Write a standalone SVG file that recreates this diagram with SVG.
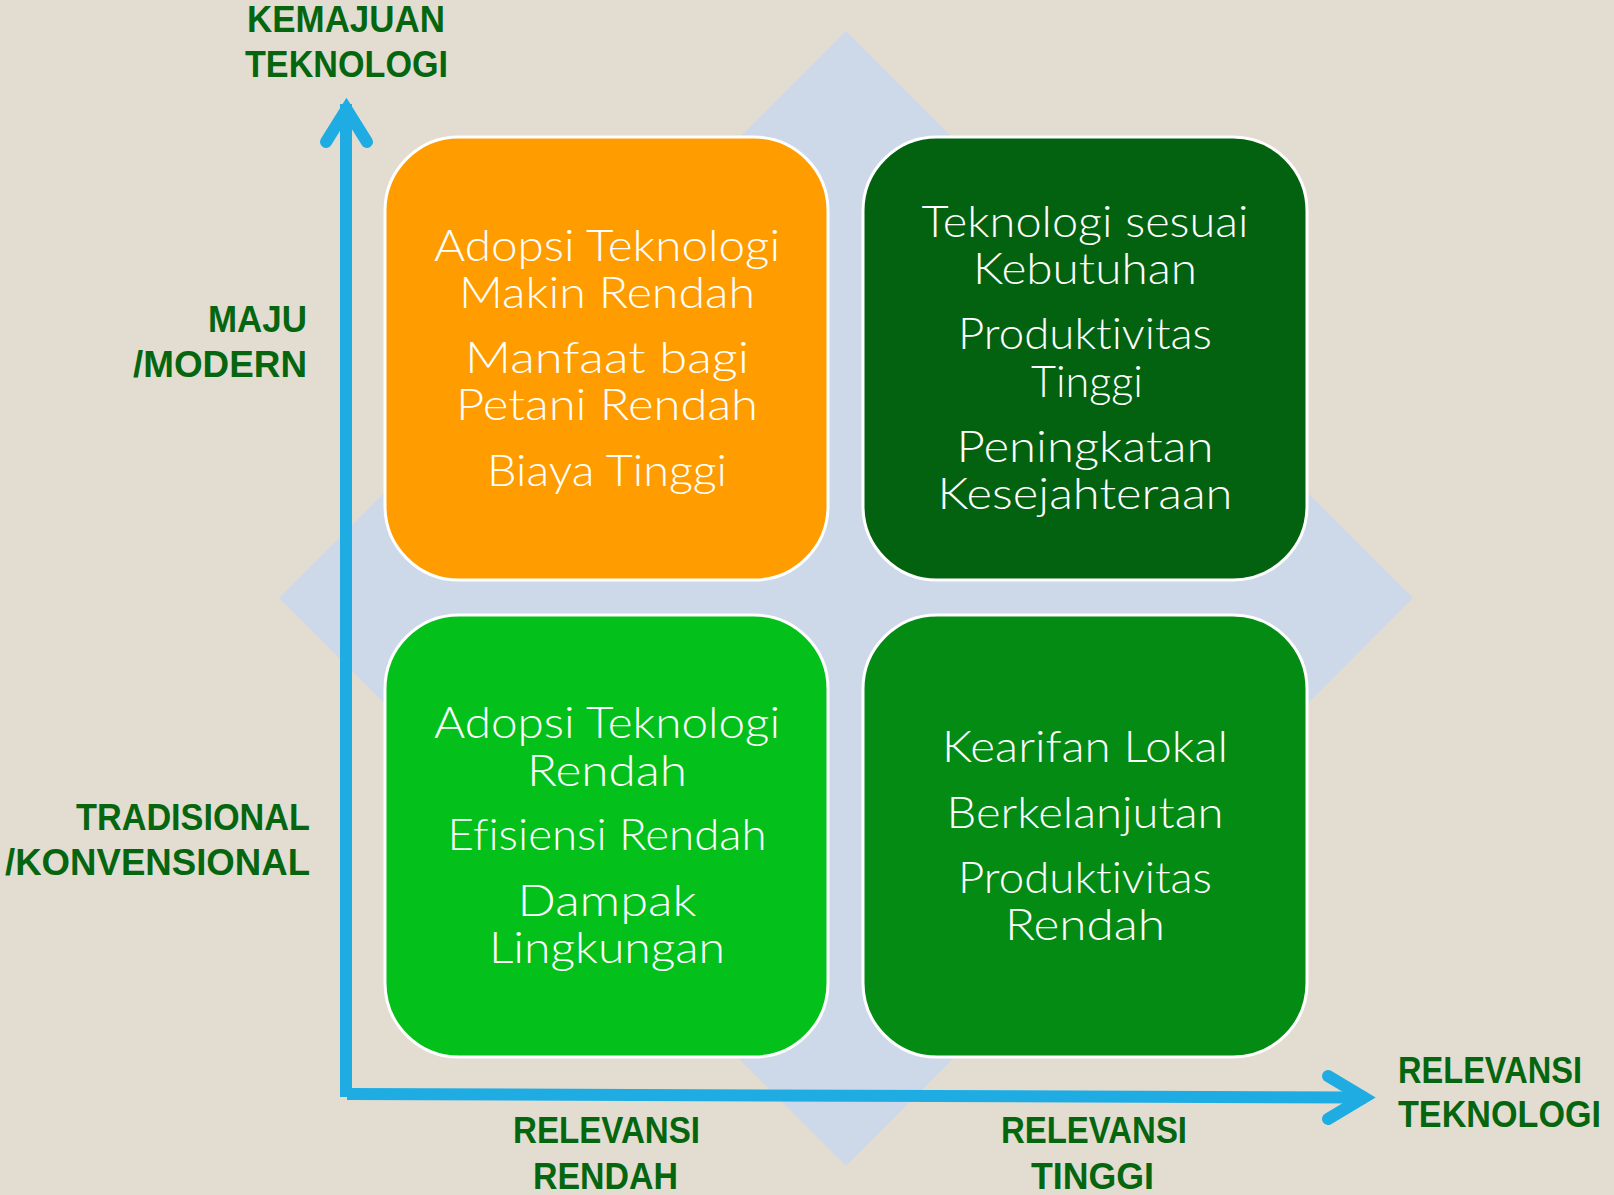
<svg xmlns="http://www.w3.org/2000/svg" width="1614" height="1195" viewBox="0 0 1614 1195">
  <style>
    .box { stroke: #ffffff; stroke-width: 3; }
    .t { font-family: Lato, "Open Sans", "DejaVu Sans", sans-serif; font-weight: 300; font-size: 43px; fill: #ffffff; text-anchor: middle; font-variant-ligatures: none; font-feature-settings: "liga" 0, "clig" 0, "dlig" 0; }
    .lbl { font-family: "Liberation Sans", Arial, sans-serif; font-weight: 700; font-size: 36px; fill: #05660f; }
    .axis { fill: none; stroke: #1face3; stroke-width: 12; }
    .head { fill: none; stroke: #1face3; stroke-width: 12; stroke-linecap: round; stroke-linejoin: miter; stroke-miterlimit: 10; }
  </style>
  <rect x="0" y="0" width="1614" height="1195" fill="#e3ddd1"/>
  <polygon id="diamond" points="846,31 1413,598 846,1166 279,598" fill="#cdd8e8"/>

  <g id="box-top-left">
    <rect class="box" x="385" y="137" width="443" height="443" rx="74" ry="74" fill="#ff9c00"/>
    <text class="t" x="607" y="261" textLength="346" lengthAdjust="spacingAndGlyphs">Adopsi Teknologi</text>
    <text class="t" x="607" y="308" textLength="296" lengthAdjust="spacingAndGlyphs">Makin Rendah</text>
    <text class="t" x="607" y="373" textLength="284" lengthAdjust="spacingAndGlyphs">Manfaat bagi</text>
    <text class="t" x="607" y="420" textLength="302" lengthAdjust="spacingAndGlyphs">Petani Rendah</text>
    <text class="t" x="607" y="486" textLength="240" lengthAdjust="spacingAndGlyphs">Biaya Tinggi</text>
  </g>

  <g id="box-top-right">
    <rect class="box" x="863" y="137" width="444" height="443" rx="74" ry="74" fill="#03620f"/>
    <text class="t" x="1085" y="237" textLength="327" lengthAdjust="spacingAndGlyphs">Teknologi sesuai</text>
    <text class="t" x="1085" y="284" textLength="224" lengthAdjust="spacingAndGlyphs">Kebutuhan</text>
    <text class="t" x="1085" y="349" textLength="254" lengthAdjust="spacingAndGlyphs">Produktivitas</text>
    <text class="t" x="1087" y="397" textLength="112" lengthAdjust="spacingAndGlyphs">Tinggi</text>
    <text class="t" x="1085" y="462" textLength="257" lengthAdjust="spacingAndGlyphs">Peningkatan</text>
    <text class="t" x="1085" y="509" textLength="295" lengthAdjust="spacingAndGlyphs">Kesejahteraan</text>
  </g>

  <g id="box-bottom-left">
    <rect class="box" x="385" y="615" width="443" height="442" rx="74" ry="74" fill="#03c11a"/>
    <text class="t" x="607" y="738" textLength="346" lengthAdjust="spacingAndGlyphs">Adopsi Teknologi</text>
    <text class="t" x="607" y="786" textLength="160" lengthAdjust="spacingAndGlyphs">Rendah</text>
    <text class="t" x="607" y="850" textLength="319" lengthAdjust="spacingAndGlyphs">Efisiensi Rendah</text>
    <text class="t" x="607" y="916" textLength="179" lengthAdjust="spacingAndGlyphs">Dampak</text>
    <text class="t" x="607" y="963" textLength="236" lengthAdjust="spacingAndGlyphs">Lingkungan</text>
  </g>

  <g id="box-bottom-right">
    <rect class="box" x="863" y="615" width="444" height="442" rx="74" ry="74" fill="#038b14"/>
    <text class="t" x="1085" y="762" textLength="286" lengthAdjust="spacingAndGlyphs">Kearifan Lokal</text>
    <text class="t" x="1085" y="828" textLength="277" lengthAdjust="spacingAndGlyphs">Berkelanjutan</text>
    <text class="t" x="1085" y="893" textLength="254" lengthAdjust="spacingAndGlyphs">Produktivitas</text>
    <text class="t" x="1085" y="940" textLength="160" lengthAdjust="spacingAndGlyphs">Rendah</text>
  </g>

  <g id="axes">
    <line class="axis" x1="346" y1="104" x2="346" y2="1097"/>
    <line class="axis" x1="347" y1="1094" x2="1366" y2="1097.5"/>
    <polyline class="head" points="326,142 346.5,109 367,142"/>
    <polyline class="head" points="1328,1076 1364,1097.5 1328,1119"/>
  </g>

  <g id="labels">
    <text class="lbl" x="247" y="32" textLength="198" lengthAdjust="spacingAndGlyphs">KEMAJUAN</text>
    <text class="lbl" x="245" y="77" textLength="203" lengthAdjust="spacingAndGlyphs">TEKNOLOGI</text>
    <text class="lbl" x="208" y="332" textLength="99" lengthAdjust="spacingAndGlyphs">MAJU</text>
    <text class="lbl" x="133" y="377" textLength="174" lengthAdjust="spacingAndGlyphs">/MODERN</text>
    <text class="lbl" x="76" y="830" textLength="234" lengthAdjust="spacingAndGlyphs">TRADISIONAL</text>
    <text class="lbl" x="5" y="875" textLength="305" lengthAdjust="spacingAndGlyphs">/KONVENSIONAL</text>
    <text class="lbl" x="513" y="1143" textLength="187" lengthAdjust="spacingAndGlyphs">RELEVANSI</text>
    <text class="lbl" x="533" y="1189" textLength="145" lengthAdjust="spacingAndGlyphs">RENDAH</text>
    <text class="lbl" x="1001" y="1143" textLength="186" lengthAdjust="spacingAndGlyphs">RELEVANSI</text>
    <text class="lbl" x="1031" y="1189" textLength="123" lengthAdjust="spacingAndGlyphs">TINGGI</text>
    <text class="lbl" x="1398" y="1083" textLength="184" lengthAdjust="spacingAndGlyphs">RELEVANSI</text>
    <text class="lbl" x="1398" y="1127" textLength="203" lengthAdjust="spacingAndGlyphs">TEKNOLOGI</text>
  </g>
</svg>
